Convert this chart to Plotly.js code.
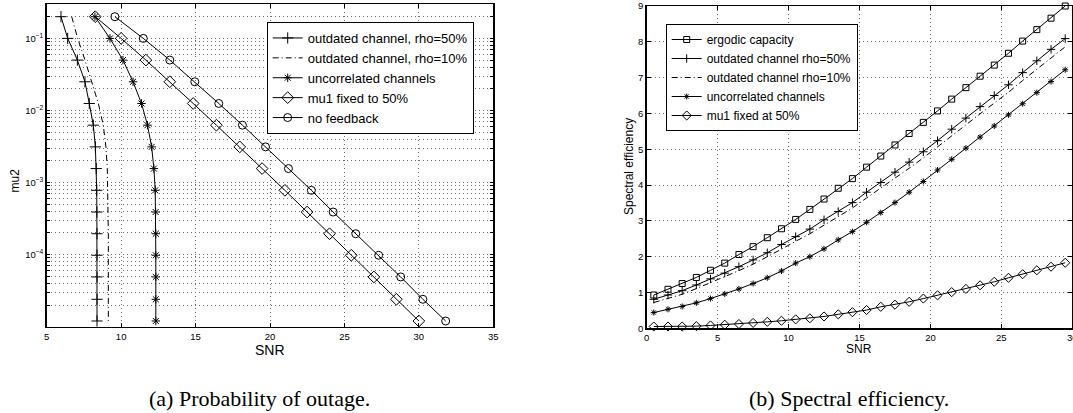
<!DOCTYPE html>
<html>
<head>
<meta charset="utf-8">
<script src="https://cdn.plot.ly/plotly-3.0.1.min.js"></script>
<style>
  html, body { margin: 0; padding: 0; background: #fff; }
  #chart { width: 1073px; height: 413px; }
</style>
</head>
<body>
<div id="chart"></div>
<script>
// ---------- (a) Probability of outage ----------
const mu2Levels = [0.2, 0.1, 0.05, 0.025, 0.0125, 0.00625, 0.003125, 0.0015625, 7.8e-4, 3.9e-4, 1.95e-4, 9.8e-5, 4.9e-5, 2.4e-5, 1.2e-5];
const snrOutdated50 = [5.96, 6.41, 7.06, 7.57, 7.86, 8.13, 8.27, 8.33, 8.36, 8.37, 8.38, 8.38, 8.38, 8.38, 8.38];
const snrOutdated10 = [6.68, 7.08, 7.57, 8.02, 8.47, 8.80, 8.98, 9.07, 9.11, 9.13, 9.14, 9.14, 9.14, 9.14, 9.14];
const snrUncorrelated = [8.24, 9.25, 10.12, 10.80, 11.37, 11.77, 12.05, 12.20, 12.29, 12.32, 12.33, 12.33, 12.33, 12.33, 12.33];
const snrMu1Fixed = [8.26, 10.00, 11.66, 13.27, 14.84, 16.40, 17.97, 19.47, 21.00, 22.49, 24.00, 25.46, 26.98, 28.49, 30.00];
const snrNoFeedback = [9.58, 11.49, 13.27, 14.95, 16.56, 18.15, 19.70, 21.24, 22.78, 24.24, 25.76, 27.30, 28.78, 30.27, 31.80];
const namesA = ["outdated channel, rho=50%", "outdated channel, rho=10%", "uncorrelated channels", "mu1 fixed to 50%", "no feedback"];

// log-axis tick values (data values) and labels
const logTickVals = [];
const logTickText = [];
[-5, -4, -3, -2, -1].forEach(function (e) {
  for (let m = 1; m <= 9; m++) {
    const v = m * Math.pow(10, e);
    if (v > 0.3) break;
    logTickVals.push(v);
    logTickText.push(m === 1 && e <= -1 && e >= -4 ? "10<sup>\u2212" + (-e) + "</sup>" : "");
  }
});

// ---------- (b) Spectral efficiency ----------
const snrB = [0.5, 1.5, 2.5, 3.5, 4.5, 5.5, 6.5, 7.5, 8.5, 9.5, 10.5, 11.5, 12.5, 13.5, 14.5, 15.5, 16.5, 17.5, 18.5, 19.5, 20.5, 21.5, 22.5, 23.5, 24.5, 25.5, 26.5, 27.5, 28.5, 29.5];
const seErgodic = [0.93, 1.09, 1.25, 1.42, 1.62, 1.82, 2.06, 2.28, 2.53, 2.78, 3.04, 3.32, 3.61, 3.91, 4.18, 4.50, 4.81, 5.12, 5.44, 5.75, 6.07, 6.40, 6.72, 7.04, 7.35, 7.68, 8.02, 8.34, 8.66, 9.00];
const seOutdated50 = [0.81, 0.93, 1.05, 1.21, 1.38, 1.54, 1.72, 1.91, 2.11, 2.34, 2.56, 2.77, 3.03, 3.26, 3.51, 3.80, 4.07, 4.36, 4.64, 4.93, 5.24, 5.56, 5.87, 6.19, 6.50, 6.80, 7.14, 7.47, 7.79, 8.09];
const seOutdated10 = [0.72, 0.83, 0.95, 1.11, 1.27, 1.43, 1.61, 1.79, 1.99, 2.21, 2.43, 2.64, 2.88, 3.11, 3.36, 3.64, 3.91, 4.19, 4.47, 4.76, 5.06, 5.37, 5.68, 5.99, 6.29, 6.59, 6.92, 7.24, 7.56, 7.86];
const seUncorrelated = [0.44, 0.53, 0.61, 0.71, 0.83, 0.96, 1.10, 1.25, 1.41, 1.60, 1.82, 2.00, 2.22, 2.47, 2.70, 2.96, 3.23, 3.51, 3.80, 4.10, 4.42, 4.72, 5.03, 5.34, 5.65, 5.96, 6.27, 6.58, 6.89, 7.22];
const seMu1Fixed = [0.05, 0.05, 0.05, 0.06, 0.08, 0.10, 0.12, 0.15, 0.18, 0.21, 0.25, 0.28, 0.33, 0.39, 0.45, 0.51, 0.60, 0.66, 0.74, 0.83, 0.92, 1.01, 1.10, 1.20, 1.30, 1.41, 1.51, 1.62, 1.72, 1.83];
const namesB = ["ergodic capacity", "outdated channel rho=50%", "outdated channel rho=10%", "uncorrelated channels", "mu1 fixed at 50%"];

const SANS = "Liberation Sans, Arial, Helvetica, sans-serif";
const SERIF = "Liberation Serif, Times New Roman, serif";

function tr(x, y, name, symbol, size, dash, xa, ya, leg) {
  const t = {
    x: x, y: y, name: name, type: "scatter",
    mode: symbol ? "lines+markers" : "lines",
    xaxis: xa, yaxis: ya, legend: leg,
    line: { color: "black", width: 1, dash: dash || "solid" },
    cliponaxis: false
  };
  if (symbol) {
    t.marker = { symbol: symbol, size: size, color: "black", line: { color: "black", width: 1 } };
  }
  return t;
}

const data = [
  tr(snrOutdated50, mu2Levels, namesA[0], "cross-thin-open", 8, null, "x", "y", "legend"),
  tr(snrOutdated10, mu2Levels, namesA[1], null, 0, "6px,3px,1px,3px", "x", "y", "legend"),
  tr(snrUncorrelated, mu2Levels, namesA[2], "asterisk-open", 7, null, "x", "y", "legend"),
  tr(snrMu1Fixed, mu2Levels, namesA[3], "diamond-open", 9, null, "x", "y", "legend"),
  tr(snrNoFeedback, mu2Levels, namesA[4], "circle-open", 8, null, "x", "y", "legend"),
  tr(snrB, seErgodic, namesB[0], "square-open", 6, null, "x2", "y2", "legend2"),
  tr(snrB, seOutdated50, namesB[1], "cross-thin-open", 6, null, "x2", "y2", "legend2"),
  tr(snrB, seOutdated10, namesB[2], null, 0, "6px,3px,1px,3px", "x2", "y2", "legend2"),
  tr(snrB, seUncorrelated, namesB[3], "asterisk-open", 5, null, "x2", "y2", "legend2"),
  tr(snrB, seMu1Fixed, namesB[4], "diamond-open", 7, null, "x2", "y2", "legend2")
];

const axBase = {
  showline: true, linecolor: "black", linewidth: 1.5, mirror: "ticks",
  ticks: "inside", ticklen: 4, tickcolor: "black", tickwidth: 1,
  showgrid: true, gridcolor: "#707070", griddash: "1px,3px", gridwidth: 1,
  zeroline: false, automargin: false,
  tickfont: { family: SANS, size: 9.5, color: "black" }
};

const layout = {
  width: 1073, height: 413,
  margin: { l: 0, r: 0, t: 0, b: 0 },
  paper_bgcolor: "white", plot_bgcolor: "white",
  showlegend: true,
  xaxis: Object.assign({}, axBase, {
    domain: [46.7 / 1073, 493.3 / 1073], anchor: "y",
    range: [5, 35], tickmode: "array", tickvals: [5, 10, 15, 20, 25, 30, 35]
  }),
  yaxis: Object.assign({}, axBase, {
    domain: [1 - 326.7 / 413, 1 - 4 / 413], anchor: "x",
    type: "log", range: [-5, Math.log10(0.3)],
    tickmode: "array", tickvals: logTickVals, ticktext: logTickText, ticklen: 3
  }),
  xaxis2: Object.assign({}, axBase, {
    domain: [646.7 / 1073, 1072.3 / 1073], anchor: "y2",
    range: [0, 30], tickmode: "array", tickvals: [0, 5, 10, 15, 20, 25, 30],
    ticklabeloverflow: "allow"
  }),
  yaxis2: Object.assign({}, axBase, {
    domain: [1 - 328.3 / 413, 1 - 6 / 413], anchor: "x2",
    range: [0, 9], tickmode: "array", tickvals: [0, 1, 2, 3, 4, 5, 6, 7, 8, 9]
  }),
  legend: {
    x: 266.7 / 1073, y: 1 - 22 / 413, xanchor: "left", yanchor: "top",
    bgcolor: "white", bordercolor: "black", borderwidth: 1,
    font: { family: SANS, size: 13, color: "black" },
    itemwidth: 30, tracegroupgap: 0
  },
  legend2: {
    x: 665.7 / 1073, y: 1 - 24 / 413, xanchor: "left", yanchor: "top",
    bgcolor: "white", bordercolor: "black", borderwidth: 1,
    font: { family: SANS, size: 12, color: "black" },
    itemwidth: 30, tracegroupgap: 0
  },
  annotations: [
    { text: "SNR", xref: "paper", yref: "paper", x: 270 / 1073, y: 1 - 350 / 413, showarrow: false,
      xanchor: "center", yanchor: "middle", font: { family: SANS, size: 14, color: "black" } },
    { text: "mu2", xref: "paper", yref: "paper", x: 14.5 / 1073, y: 1 - 181 / 413, showarrow: false, textangle: -90,
      xanchor: "center", yanchor: "middle", font: { family: SANS, size: 12, color: "black" } },
    { text: "SNR", xref: "paper", yref: "paper", x: 859 / 1073, y: 1 - 349 / 413, showarrow: false,
      xanchor: "center", yanchor: "middle", font: { family: SANS, size: 12, color: "black" } },
    { text: "Spectral efficiency", xref: "paper", yref: "paper", x: 629 / 1073, y: 1 - 167 / 413, showarrow: false, textangle: -90,
      xanchor: "center", yanchor: "middle", font: { family: SANS, size: 12, color: "black" } },
    { text: "(a) Probability of outage.", xref: "paper", yref: "paper", x: 259 / 1073, y: 1 - 398 / 413, showarrow: false,
      xanchor: "center", yanchor: "middle", font: { family: SERIF, size: 22, color: "black" } },
    { text: "(b) Spectral efficiency.", xref: "paper", yref: "paper", x: 849 / 1073, y: 1 - 398 / 413, showarrow: false,
      xanchor: "center", yanchor: "middle", font: { family: SERIF, size: 22, color: "black" } }
  ]
};

Plotly.newPlot("chart", data, layout, { displayModeBar: false, staticPlot: true });
</script>
</body>
</html>
